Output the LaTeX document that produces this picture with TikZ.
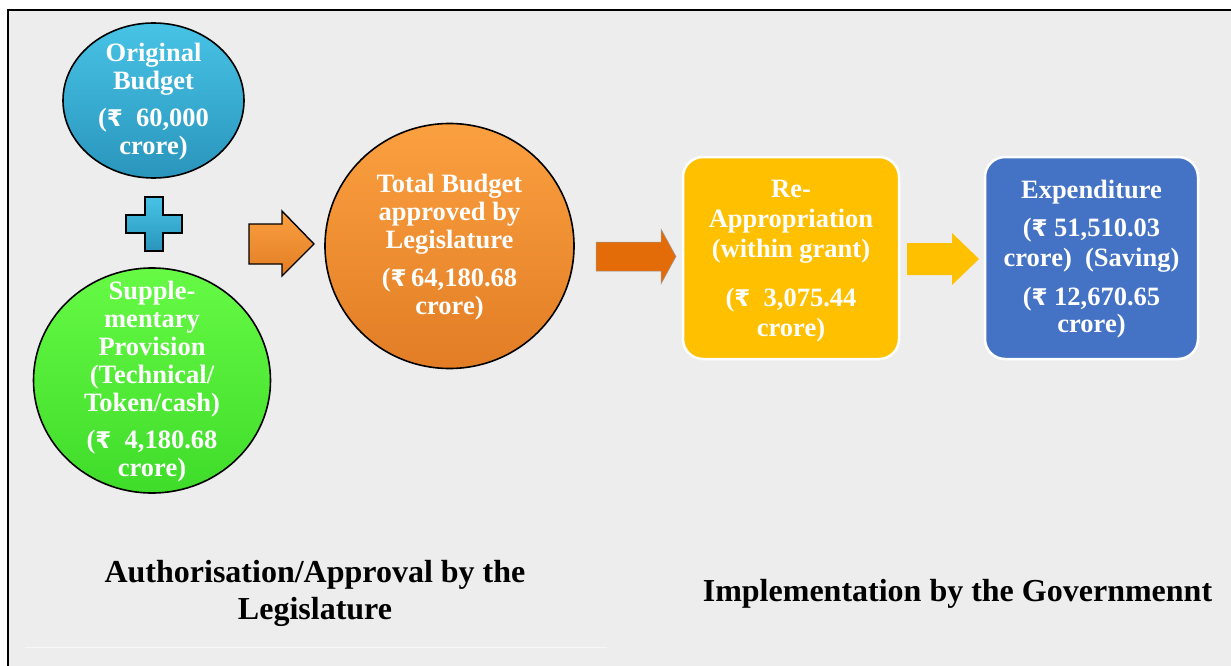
\documentclass[tikz,border=0pt]{standalone}
\usepackage{fontspec}
\setmainfont{Liberation Serif}
\newfontfamily\rupfont{DejaVu Sans}
\usetikzlibrary{shapes.geometric}
\definecolor{bgc}{HTML}{EDEDED}
\definecolor{blueT}{HTML}{47C3E6}
\definecolor{blueB}{HTML}{2A95BC}
\definecolor{greenT}{HTML}{66FA45}
\definecolor{greenB}{HTML}{3FDC2A}
\definecolor{orT}{HTML}{FBA040}
\definecolor{orB}{HTML}{E27D25}
\definecolor{darkor}{HTML}{E36C09}
\definecolor{gold}{HTML}{FFC000}
\definecolor{boxblue}{HTML}{4472C4}
\newcommand\Rs{{\rupfont\bfseries\fontsize{23}{28}\selectfont ₹}}
\tikzset{
  ball/.style={ellipse, draw=black, line width=1.6pt, inner sep=0pt},
  btxt/.style={text=white, font=\bfseries\fontsize{26.5}{28}\selectfont, align=center, inner sep=0pt},
  bxtxt/.style={text=white, font=\bfseries\fontsize{26.5}{30}\selectfont, align=center, inner sep=0pt},
  roundbox/.style={rectangle, rounded corners=20pt, draw=white, line width=2.5pt, inner sep=0pt},
  captxt/.style={text=black, font=\bfseries\fontsize{32}{37}\selectfont, align=center, inner sep=0pt},
}
\begin{document}
\begin{tikzpicture}[x=1pt,y=-1pt]
\useasboundingbox (0,0) rectangle (1231,666);
\fill[white] (0,0) rectangle (1231,666);
\fill[bgc] (8,10) rectangle (1231,666);
\draw[white!60!bgc, line width=0.8pt] (25,647) -- (607,647);
\draw[line width=2.2pt] (8,666) -- (8,10) -- (1231,10);

% Original budget
\node[ball, top color=blueT, bottom color=blueB, minimum width=181, minimum height=155] (orig) at (153.5,100.5) {};
\node[btxt] (origT) at (153.5,101.7) {Original\\Budget\\[9.5pt](\Rs~~60,000\\crore)};

% plus sign
\path[draw=black, line width=1.4pt, top color=blueT, bottom color=blueB]
  (145,197) -- (163,197) -- (163,215) -- (182,215) -- (182,233) -- (163,233) -- (163,251)
  -- (145,251) -- (145,233) -- (126,233) -- (126,215) -- (145,215) -- cycle;

% Supplementary
\node[ball, top color=greenT, bottom color=greenB, minimum width=237, minimum height=225] (supp) at (152,380.5) {};
\node[btxt] (suppT) at (152,381.3) {Supple-\\mentary\\Provision\\(Technical/\\Token/cash)\\[9pt](\Rs~~4,180.68\\crore)};

% arrow 1
\path[draw=black, line width=1.4pt, top color=orT, bottom color=orB]
  (249,224) -- (282,224) -- (282,211) -- (314,244) -- (282,276) -- (282,264) -- (249,264) -- cycle;

% Total budget
\node[ball, top color=orT, bottom color=orB, minimum width=249, minimum height=245] (tot) at (449.5,246) {};
\node[btxt] (totT) at (449.5,247.2) {Total Budget\\approved by\\Legislature\\[10pt](\Rs\,64,180.68\\crore)};

% arrow 2
\path[fill=darkor, draw=gray!80, line width=0.5pt]
  (596,242) -- (661,242) -- (661,229) -- (676,256.5) -- (661,284) -- (661,271) -- (596,271) -- cycle;

% Re-appropriation
\node[roundbox, fill=gold, minimum width=216, minimum height=202] (reapp) at (791,258) {};
\node[bxtxt] (reappT) at (791,260.7) {Re-\\Appropriation\\(within grant)\\[19pt](\Rs~~3,075.44\\crore)};

% arrow 3
\path[fill=gold]
  (907,243) -- (952,243) -- (952,233) -- (979,259) -- (952,285) -- (952,275) -- (907,275) -- cycle;

% Expenditure
\node[roundbox, fill=boxblue, minimum width=213, minimum height=202] (expd) at (1091.5,258) {};
\node[bxtxt] (expdT) at (1091.5,259.2) {Expenditure\\[8pt](\Rs~51,510.03\\crore)~~(Saving)\\[9pt](\Rs~12,670.65\\[-3pt]crore)};

% captions
\node[captxt] (legT) at (315,593) {Authorisation/Approval by the\\Legislature};
\node[captxt, anchor=base] (govT) at (957.5,601) {Implementation by the Governmennt};
\end{tikzpicture}
\end{document}
